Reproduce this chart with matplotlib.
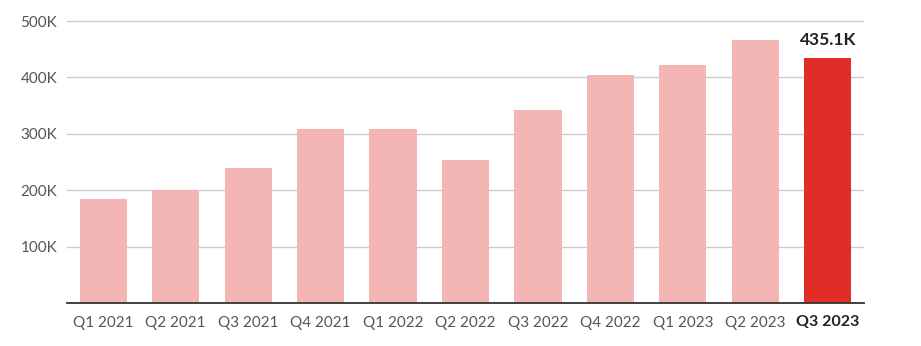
import matplotlib
matplotlib.use("Agg")
import matplotlib.pyplot as plt
from matplotlib.ticker import FuncFormatter

categories = ["Q1 2021", "Q2 2021", "Q3 2021", "Q4 2021", "Q1 2022", "Q2 2022",
              "Q3 2022", "Q4 2022", "Q1 2023", "Q2 2023", "Q3 2023"]
values = [184000, 200000, 239000, 308000, 309000, 254000,
          342000, 404000, 422000, 466000, 435100]
highlight_label = "435.1K"
yticks = [100000, 200000, 300000, 400000, 500000]

plt.rcParams['font.family'] = ['Lato', 'DejaVu Sans']

fig = plt.figure(figsize=(9.21, 3.46), dpi=100)
ax = fig.add_axes([67/921, 43/346, 797/921, (303-18.2)/346])

colors = ["#f4b6b4"] * (len(values) - 1) + ["#e02d27"]
x = list(range(len(categories)))
ax.bar(x, values, width=0.65, color=colors, zorder=3)

ax.set_xlim(-0.5, len(categories) - 0.5)
ax.set_ylim(0, 505000)
ax.set_yticks(yticks)
ax.yaxis.set_major_formatter(FuncFormatter(lambda v, p: f"{int(v/1000)}K"))
ax.grid(axis="y", color="#cccccc", linewidth=1, zorder=0)
ax.set_xticks(x)
ax.set_xticklabels(categories)

for s in ["top", "right", "left"]:
    ax.spines[s].set_visible(False)
ax.spines["bottom"].set_color("#333333")
ax.spines["bottom"].set_linewidth(1.3)
ax.spines["bottom"].set_zorder(4)

ax.tick_params(axis="both", length=0, labelsize=11, labelcolor="#555555")
ax.tick_params(axis="x", pad=9)
ax.tick_params(axis="y", pad=7)
last = ax.get_xticklabels()[-1]
last.set_fontweight("bold")
last.set_color("#222222")
last.set_fontsize(11.5)

ax.annotate(highlight_label, (x[-1], values[-1]), xytext=(0, 7),
            textcoords="offset points", ha="center", va="bottom",
            fontsize=12.5, fontweight="bold", color="#222222")

fig.savefig("out.png", dpi=100)
